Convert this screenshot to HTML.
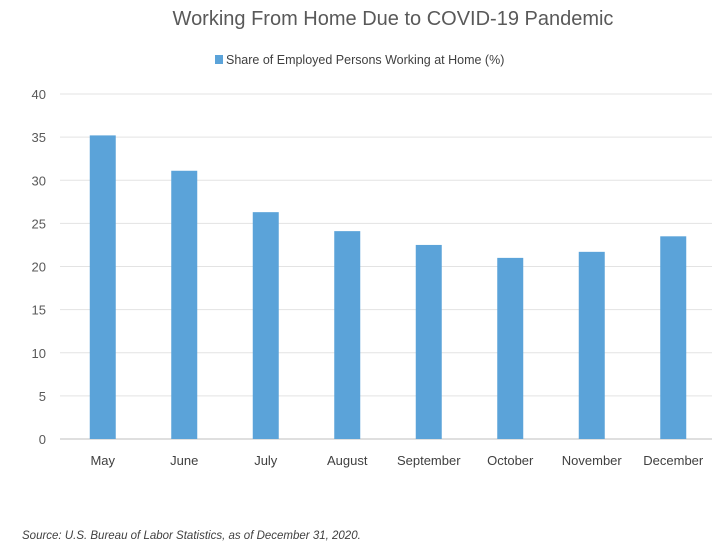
<!DOCTYPE html>
<html><head><meta charset="utf-8"><style>
body{margin:0;background:#fff;}
svg{display:block;font-family:"Liberation Sans",sans-serif;}
</style></head><body>
<svg width="726" height="551">
<text x="393" y="25" text-anchor="middle" font-size="20" fill="#595959">Working From Home Due to COVID-19 Pandemic</text>
<g>
<rect x="215" y="55" width="8" height="9" fill="#5ba3d9"></rect>
<text x="226" y="64" font-size="12.5" fill="#404040">Share of Employed Persons Working at Home (%)</text>
</g>
<g id="grid"></g><g id="bars"></g><g id="xl"></g>
<text x="22" y="539" font-size="11.5" font-style="italic" fill="#404040">Source: U.S. Bureau of Labor Statistics, as of December 31, 2020.</text>
</svg>
<script>
const categories=["May","June","July","August","September","October","November","December"];
const values=[35.2,31.1,26.3,24.1,22.5,21.0,21.7,23.5];
const ticks=[0,5,10,15,20,25,30,35,40];
const NS="http://www.w3.org/2000/svg";
const x0=60,x1=712,y0=439,y1=94,ymax=40;
const band=(x1-x0)/categories.length, bw=26;
const y=v=>y0-(v/ymax)*(y0-y1);
const xc=i=>x0+band*i+band/2+2;
function mk(t,a,p){const e=document.createElementNS(NS,t);for(const k in a)e.setAttribute(k,a[k]);p.appendChild(e);return e;}
const g=document.getElementById('grid'),b=document.getElementById('bars'),xl=document.getElementById('xl');
ticks.forEach(t=>{
const l=mk('line',{x1:x0,x2:x1,y1:y(t),y2:y(t),stroke:t===0?'#bfbfbf':'#e3e3e3','stroke-width':1},g);


const tx=mk('text',{x:46,y:y(t)+5,'text-anchor':'end','font-size':13,fill:'#595959'},g);
tx.textContent=t;


});
categories.forEach((c,i)=>{
const r=mk('rect',{x:xc(i)-bw/2,y:y(values[i]),width:bw,height:y0-y(values[i]),fill:'#5ba3d9'},b);


const t=mk('text',{x:xc(i),y:465,'text-anchor':'middle','font-size':13,fill:'#404040'},xl);
t.textContent=c;


});
</script>
</body></html>
